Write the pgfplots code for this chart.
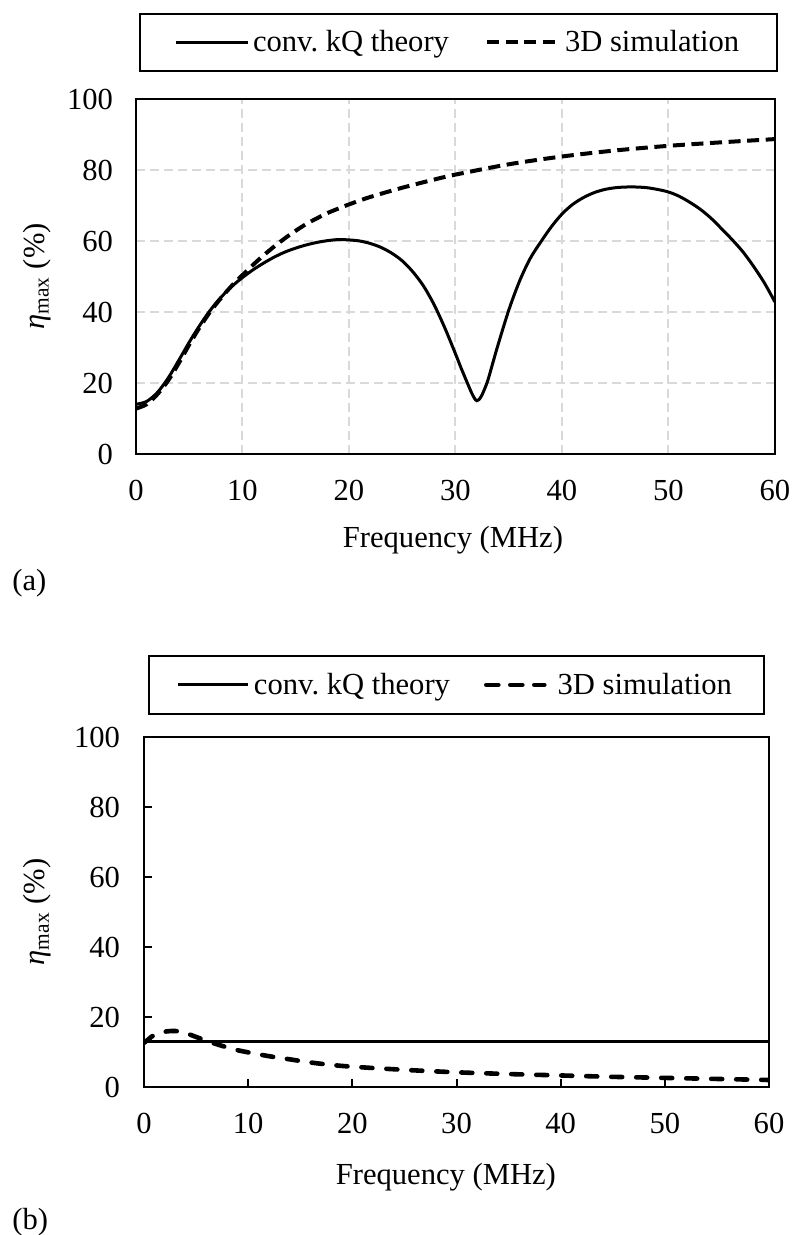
\documentclass[border=0pt]{standalone}
\usepackage{fontspec}
\setmainfont{Liberation Serif}
\usepackage{pgfplots}
\usepackage{pgfplotstable}
\pgfplotsset{compat=1.18}

\pgfplotstableread{
f v
0 14.0
1 14.8
2 17.3
3 21.3
4 26.3
5 31.5
6 36.3
7 40.6
8 44.2
9 47.2
10 49.7
11 51.9
12 53.8
13 55.5
14 56.9
15 58.0
16 58.9
17 59.6
18 60.1
19 60.4
20 60.3
21 60.0
22 59.3
23 58.2
24 56.6
25 54.4
26 51.3
27 47.3
28 42.0
29 35.5
30 28.2
30.5 24.4
31 20.8
31.5 17.3
31.8 15.6
32 15.0
32.2 15.3
32.5 16.7
33 20.4
33.5 25.6
34 30.8
35 40.5
36 48.6
37 55.0
38 59.7
39 64.0
40 67.6
41 70.3
42 72.2
43 73.6
44 74.5
45 75.0
46 75.2
47 75.2
48 75.0
49 74.5
50 73.8
51 72.6
52 70.9
53 68.9
54 66.4
55 63.4
56 60.3
57 56.9
58 52.8
59 48.2
60 42.8
}\kqa

\pgfplotstableread{
f v
0 12.8
1 14.0
2 16.8
3 20.6
4 25.5
5 30.8
6 35.8
7 40.2
8 44.0
9 47.4
10 50.4
11 53.3
12 56.0
13 58.5
14 60.8
15 62.9
16 64.8
17 66.4
18 67.9
20 70.3
22 72.4
25 75.0
28 77.3
30 78.7
35 81.6
40 83.8
45 85.5
50 86.8
55 87.8
60 88.7
}\simA

\pgfplotstableread{
f v
0 12.9
60 12.9
}\kqb

\pgfplotstableread{
f v
0 12.6
0.5 13.8
1 14.9
2 15.8
3 16.0
4 15.4
5 14.3
6 13.2
7 12.2
8 11.3
9 10.5
10 9.9
12 8.8
14 7.9
16 7.0
18 6.3
20 5.8
25 4.9
30 4.2
35 3.7
40 3.3
45 2.9
50 2.6
55 2.3
60 2.0
}\simB

\newcommand{\fs}{\fontsize{15.3}{18}\selectfont}

\pgfplotsset{
  common/.style={
    scale only axis,
    xmin=0, xmax=60, ymin=0, ymax=100,
    xtick={0,10,...,60}, ytick={0,20,...,100},
    axis line style={line width=1.1pt, black},
    tick label style={font=\fs},
    /pgf/number format/assume math mode=true,
    xticklabel style={yshift=-9.5pt},
    ylabel={\textit{η}\textsubscript{max} (\%)},
    xlabel={Frequency (MHz)},
    legend columns=2,
  },
}

\begin{document}
\begin{tikzpicture}
\path[use as bounding box] (0,0) rectangle (397pt,617.5pt);

% ---------- (a) ----------
\begin{axis}[common,
  at={(68pt,390.5pt)}, anchor=south west,
  width=319.5pt, height=177.5pt,
  grid=major,
  major grid style={draw=black!15, line width=1pt, dash pattern=on 4.5pt off 2.5pt},
  major tick length=0pt,
  yticklabel style={xshift=-8pt},
  every axis y label/.style={at={(axis description cs:-0.155,0.5)}, rotate=90, anchor=center, font=\fs},
  every axis x label/.style={at={(axis description cs:0.496,-0.242)}, anchor=center, font=\fs},
  legend style={at={(axis description cs:0.0047,1.2423)}, anchor=north west,
    draw=black, line width=1pt, inner xsep=17pt, inner ysep=6.2pt,
    font=\fs, /tikz/every even column/.append style={column sep=16pt}},
]
\addplot[black, line width=1.5pt, smooth, tension=0.5,
  legend image code/.code={\draw[black, line width=1.5pt] (0pt,0pt) -- (36pt,0pt);}]
  table[x=f,y=v]{\kqa};
\addlegendentry{conv.\ kQ theory}
\addplot[black, line width=2pt, dash pattern=on 6pt off 3.3pt, smooth, tension=0.5,
  legend image code/.code={\draw[black, line width=2pt, dash pattern=on 6pt off 3.3pt] (0pt,0pt) -- (36pt,0pt);}]
  table[x=f,y=v]{\simA};
\addlegendentry{3D simulation}
\end{axis}

% ---------- (b) ----------
\begin{axis}[common,
  at={(72pt,74pt)}, anchor=south west,
  width=312.5pt, height=175pt,
  tick pos=left, tick align=inside,
  major tick length=4pt,
  tick style={line width=1pt, black},
  yticklabel style={xshift=-8.5pt},
  every axis y label/.style={at={(axis description cs:-0.171,0.5)}, rotate=90, anchor=center, font=\fs},
  every axis x label/.style={at={(axis description cs:0.483,-0.257)}, anchor=center, font=\fs},
  legend style={at={(axis description cs:0.0064,1.2343)}, anchor=north west,
    draw=black, line width=1pt, inner xsep=14pt, inner ysep=6.4pt,
    font=\fs, /tikz/every even column/.append style={column sep=15pt}},
]
\addplot[black, line width=1.5pt,
  legend image code/.code={\draw[black, line width=1.5pt] (0pt,0pt) -- (35pt,0pt);}]
  table[x=f,y=v]{\kqb};
\addlegendentry{conv.\ kQ theory}
\addplot[black, line width=2.3pt, line cap=round, dash pattern=on 5.5pt off 7pt, smooth, tension=0.5,
  legend image code/.code={\draw[black, line width=2.3pt, line cap=round, dash pattern=on 6pt off 6pt] (1pt,0pt) -- (30pt,0pt); \path (33.5pt,0pt);}]
  table[x=f,y=v]{\simB};
\addlegendentry{3D simulation}
\end{axis}

\node[anchor=west, inner sep=0pt, font=\fs] at (6pt,326pt) {(a)};
\node[anchor=west, inner sep=0pt, font=\fs] at (6pt,6.5pt) {(b)};
\end{tikzpicture}
\end{document}
